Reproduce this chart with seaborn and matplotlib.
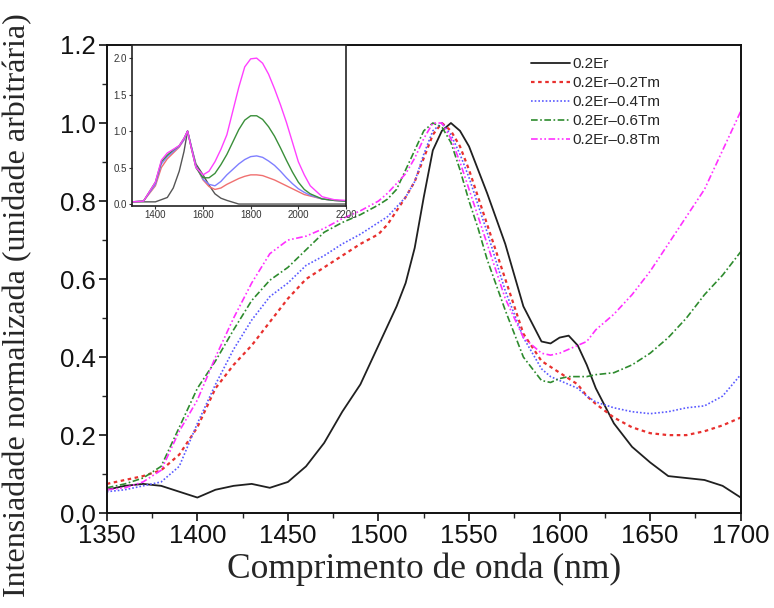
import matplotlib
matplotlib.use("Agg")
import matplotlib.pyplot as plt
import seaborn as sns
import numpy as np
import pandas as pd
from matplotlib.ticker import MultipleLocator, FormatStrFormatter

# ---------------- main data ----------------
wavelength = [1350, 1360, 1370, 1380, 1390, 1400, 1410, 1420, 1430, 1440, 1450, 1460, 1470, 1480,
              1490, 1500, 1505, 1510, 1515, 1520, 1525, 1530, 1535, 1540, 1545, 1550, 1555, 1560,
              1570, 1580, 1590, 1595, 1600, 1605, 1610, 1615, 1620, 1630, 1640, 1650, 1660, 1670,
              1680, 1690, 1700]

er_02 = [0.06, 0.07, 0.075, 0.07, 0.055, 0.04, 0.06, 0.07, 0.075, 0.065, 0.08, 0.12, 0.18, 0.26,
         0.33, 0.43, 0.48, 0.53, 0.59, 0.68, 0.81, 0.93, 0.98, 1.0, 0.98, 0.94, 0.88, 0.82,
         0.69, 0.53, 0.44, 0.435, 0.45, 0.455, 0.43, 0.38, 0.32, 0.23, 0.17, 0.13, 0.095, 0.09,
         0.085, 0.07, 0.04]

er_tm02 = [0.075, 0.085, 0.095, 0.11, 0.15, 0.22, 0.32, 0.38, 0.43, 0.49, 0.55, 0.60, 0.63, 0.66,
           0.69, 0.715, 0.74, 0.775, 0.81, 0.85, 0.91, 0.97, 1.0, 0.98, 0.94, 0.88, 0.81, 0.74,
           0.60, 0.46, 0.39, 0.375, 0.36, 0.345, 0.33, 0.30, 0.28, 0.245, 0.22, 0.205, 0.20, 0.20,
           0.21, 0.225, 0.245]

er_tm04 = [0.055, 0.06, 0.07, 0.08, 0.12, 0.23, 0.33, 0.42, 0.495, 0.555, 0.59, 0.635, 0.66, 0.69,
           0.715, 0.745, 0.76, 0.785, 0.81, 0.85, 0.92, 0.98, 1.0, 0.97, 0.92, 0.86, 0.79, 0.72,
           0.57, 0.45, 0.37, 0.35, 0.34, 0.33, 0.32, 0.30, 0.285, 0.27, 0.26, 0.255, 0.26, 0.27,
           0.275, 0.30, 0.355]

er_tm06 = [0.065, 0.075, 0.09, 0.12, 0.22, 0.32, 0.39, 0.47, 0.545, 0.597, 0.63, 0.675, 0.72, 0.745,
           0.765, 0.79, 0.805, 0.83, 0.88, 0.93, 0.98, 1.0, 0.99, 0.95, 0.88, 0.80, 0.73, 0.65,
           0.52, 0.40, 0.34, 0.335, 0.345, 0.35, 0.35, 0.35, 0.355, 0.36, 0.38, 0.41, 0.45, 0.50,
           0.56, 0.61, 0.67]

er_tm08 = [0.06, 0.065, 0.08, 0.11, 0.21, 0.29, 0.40, 0.50, 0.59, 0.665, 0.70, 0.71, 0.73, 0.755,
           0.775, 0.80, 0.82, 0.845, 0.87, 0.91, 0.96, 1.0, 1.0, 0.96, 0.90, 0.83, 0.76, 0.69,
           0.55, 0.45, 0.41, 0.405, 0.41, 0.42, 0.43, 0.44, 0.47, 0.51, 0.56, 0.62, 0.69, 0.76,
           0.83, 0.93, 1.03]

labels = ["0.2Er", "0.2Er\u20130.2Tm", "0.2Er\u20130.4Tm", "0.2Er\u20130.6Tm", "0.2Er\u20130.8Tm"]

# ---------------- inset data ----------------
wl_inset = [1300, 1350, 1400, 1425, 1450, 1475, 1500, 1520, 1535, 1550, 1570, 1600, 1625, 1650,
            1675, 1700, 1750, 1775, 1800, 1825, 1850, 1875, 1900, 1925, 1950, 1975, 2000, 2025,
            2050, 2100, 2150, 2200]
in_er = [0.03, 0.03, 0.03, 0.06, 0.09, 0.22, 0.45, 0.72, 1.0, 0.80, 0.55, 0.40, 0.26, 0.14,
         0.08, 0.05, 0.0, 0.0, 0.0, 0.0, 0.0, 0.0, 0.0, 0.0, 0.0, 0.0, 0.0, 0.0,
         0.0, 0.0, 0.0, 0.0]
in_tm02 = [0.03, 0.04, 0.25, 0.50, 0.62, 0.70, 0.78, 0.88, 1.0, 0.78, 0.52, 0.33, 0.24, 0.20,
           0.22, 0.27, 0.35, 0.38, 0.40, 0.40, 0.39, 0.36, 0.33, 0.29, 0.25, 0.21, 0.17, 0.13,
           0.11, 0.07, 0.05, 0.04]
in_tm04 = [0.03, 0.04, 0.27, 0.55, 0.65, 0.72, 0.79, 0.88, 1.0, 0.80, 0.52, 0.34, 0.27, 0.25,
           0.31, 0.40, 0.55, 0.61, 0.65, 0.66, 0.64, 0.59, 0.53, 0.45, 0.36, 0.28, 0.21, 0.16,
           0.12, 0.07, 0.05, 0.04]
in_tm06 = [0.03, 0.04, 0.30, 0.58, 0.67, 0.74, 0.80, 0.90, 1.0, 0.78, 0.50, 0.36, 0.36, 0.42,
           0.54, 0.68, 1.02, 1.15, 1.21, 1.21, 1.16, 1.06, 0.93, 0.77, 0.60, 0.44, 0.30, 0.20,
           0.14, 0.07, 0.05, 0.04]
in_tm08 = [0.03, 0.04, 0.30, 0.60, 0.70, 0.75, 0.80, 0.90, 1.0, 0.78, 0.50, 0.40, 0.45, 0.58,
           0.75, 0.95, 1.60, 1.88, 1.99, 2.00, 1.93, 1.78, 1.58, 1.36, 1.12, 0.85, 0.58, 0.40,
           0.25, 0.10, 0.06, 0.05]

main_series = [er_02, er_tm02, er_tm04, er_tm06, er_tm08]
inset_series = [in_er, in_tm02, in_tm04, in_tm06, in_tm08]

colors = ["#202020", "#e8302e", "#5a5aff", "#2e8b2e", "#ff30ff"]
inset_colors = ["#555555", "#f07070", "#7f7fff", "#3a8f3a", "#ff40ff"]
styles = ["-", (0, (1.6, 1.6)), (0, (1, 1.2)), (0, (4, 1.5, 1, 1.5)), (0, (4, 1.5, 1, 1.5, 1, 1.5))]
widths = [1.3, 1.6, 1.2, 1.2, 1.2]

sns.set_theme(style="ticks")
plt.rcParams["font.family"] = ["Liberation Sans", "DejaVu Sans"]

fig = plt.figure(figsize=(7.74, 6.08), dpi=100)
ax = fig.add_axes([0.138, 0.156, 0.819, 0.770])

for s, lab, c, ls, lw in zip(main_series, labels, colors, styles, widths):
    df = pd.DataFrame({"wl": wavelength, "val": s})
    sns.lineplot(data=df, x="wl", y="val", ax=ax, color=c, linestyle=ls, linewidth=lw, label=lab)

ax.set_xlim(1350, 1700)
ax.set_ylim(0, 1.2)
ax.xaxis.set_major_locator(MultipleLocator(50))
ax.xaxis.set_minor_locator(MultipleLocator(25))
ax.yaxis.set_major_locator(MultipleLocator(0.2))
ax.yaxis.set_minor_locator(MultipleLocator(0.1))
ax.yaxis.set_major_formatter(FormatStrFormatter("%.1f"))
ax.tick_params(axis="both", which="major", direction="out", length=6, width=1.2,
               labelsize=18.5, colors="#111111", pad=2)
ax.tick_params(axis="both", which="minor", direction="out", length=3.5, width=1.0)
for sp in ax.spines.values():
    sp.set_linewidth(1.4)
    sp.set_color("#111111")

ax.set_xlabel("Comprimento de onda (nm)", family=["Liberation Serif"], fontsize=25.5, labelpad=3)
ax.set_ylabel("Intensiadade normalizada (unidade arbitrária)", family=["Liberation Serif"],
              fontsize=23)
ax.yaxis.set_label_coords(-0.118, 0.445)

leg = ax.legend(loc="upper left", bbox_to_anchor=(0.653, 0.997), frameon=False, fontsize=11,
                handlelength=2.5, handletextpad=0.15, labelspacing=0.33, borderpad=0.2)

# ---------------- inset ----------------
axi = fig.add_axes([0.170, 0.662, 0.277, 0.264])
axi.set_facecolor("white")
for s, c in zip(inset_series, inset_colors):
    dfi = pd.DataFrame({"wl": wl_inset, "val": s})
    sns.lineplot(data=dfi, x="wl", y="val", ax=axi, color=c, linewidth=1.0, legend=False)
axi.set_xlim(1300, 2200)
axi.set_ylim(-0.02, 2.18)
axi.xaxis.set_major_locator(MultipleLocator(200))
axi.yaxis.set_major_locator(MultipleLocator(0.5))
axi.yaxis.set_major_formatter(FormatStrFormatter("%.1f"))
axi.tick_params(axis="both", which="major", direction="out", length=2, width=0.8,
                labelsize=7, pad=1.5, colors="#333333")
axi.set_xlabel("")
axi.set_ylabel("")
for sp in axi.spines.values():
    sp.set_linewidth(1.2)
    sp.set_color("#222222")

fig.savefig("out.png", dpi=100)
